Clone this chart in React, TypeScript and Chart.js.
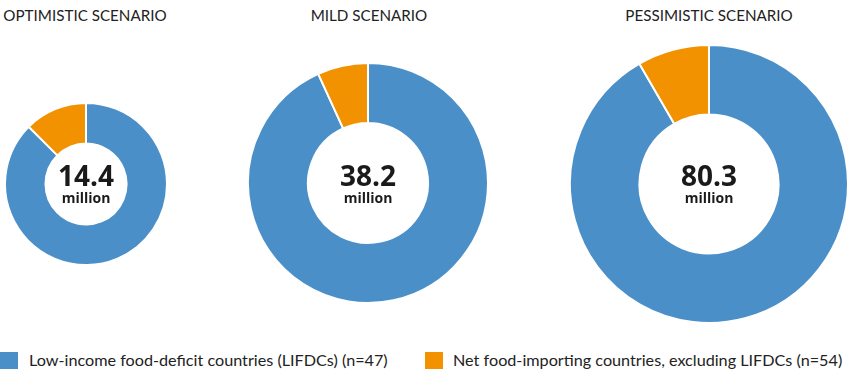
import React, { useEffect, useRef } from "react";
import { Chart, registerables } from "chart.js";

Chart.register(...registerables);

const scenarioTitles = ["OPTIMISTIC SCENARIO", "MILD SCENARIO", "PESSIMISTIC SCENARIO"];
const totalLabels = ["14.4", "38.2", "80.3"];
const unitLabel = "million";
const seriesNames = [
  "Low-income food-deficit countries (LIFDCs) (n=47)",
  "Net food-importing countries, excluding LIFDCs (n=54)",
];
const lifdcValues = [12.6, 35.6, 73.6];
const nficValues = [1.8, 2.6, 6.7];
const seriesColors = ["#4B8FC9", "#F39200"];

// layout (px)
const layouts = [
  { cx: 86, cy: 184, r: 81, titleX: 85 },
  { cx: 368, cy: 183, r: 120, titleX: 369 },
  { cx: 709, cy: 184, r: 139, titleX: 709 },
];

function Donut({ idx }: { idx: number }) {
  const ref = useRef<HTMLCanvasElement | null>(null);
  const L = layouts[idx];
  const size = 2 * L.r + 2;
  useEffect(() => {
    if (!ref.current) return;
    const chart = new Chart(ref.current, {
      type: "doughnut",
      data: {
        labels: seriesNames,
        datasets: [
          {
            data: [lifdcValues[idx], nficValues[idx]],
            backgroundColor: seriesColors,
            borderColor: "#ffffff",
            borderWidth: 2,
          },
        ],
      },
      options: {
        responsive: false,
        animation: false,
        cutout: "50%",
        layout: { padding: 0 },
        plugins: {
          legend: { display: false },
          tooltip: { enabled: false },
          title: { display: false },
        },
      },
    });
    return () => chart.destroy();
  }, [idx]);
  return (
    <>
      <canvas
        ref={ref}
        width={size}
        height={size}
        style={{
          position: "absolute",
          left: L.cx - size / 2,
          top: L.cy - size / 2,
          width: size,
          height: size,
        }}
      />
      <div
        style={{
          position: "absolute",
          left: L.titleX - 150,
          width: 300,
          top: 5,
          textAlign: "center",
          fontFamily: "Lato, 'Open Sans', sans-serif",
          fontSize: 15.2,
          lineHeight: "20px",
          color: "#222",
          whiteSpace: "nowrap",
        }}
      >
        {scenarioTitles[idx]}
      </div>
      <div
        style={{
          position: "absolute",
          left: L.cx - 60,
          width: 120,
          top: 161,
          textAlign: "center",
          fontFamily: "'Open Sans', sans-serif",
          fontWeight: 700,
          fontSize: 28,
          lineHeight: "28px",
          color: "#1a1a1a",
        }}
      >
        {totalLabels[idx]}
      </div>
      <div
        style={{
          position: "absolute",
          left: L.cx - 60,
          width: 120,
          top: 189,
          textAlign: "center",
          fontFamily: "'Open Sans', sans-serif",
          fontWeight: 700,
          fontSize: 14,
          lineHeight: "18px",
          color: "#1a1a1a",
        }}
      >
        {unitLabel}
      </div>
    </>
  );
}

export default function App() {
  const legendItems = [
    { x: 0, textX: 29 },
    { x: 425, textX: 453 },
  ];
  return (
    <div
      style={{
        position: "fixed",
        left: 0,
        top: 0,
        width: 850,
        height: 375,
        background: "#ffffff",
        overflow: "hidden",
      }}
    >
      {[0, 1, 2].map((i) => (
        <Donut key={i} idx={i} />
      ))}
      {legendItems.map((it, i) => (
        <React.Fragment key={i}>
          <div
            style={{
              position: "absolute",
              left: it.x,
              top: 352,
              width: 18,
              height: 17,
              background: seriesColors[i],
            }}
          />
          <div
            style={{
              position: "absolute",
              left: it.textX,
              top: 350,
              fontFamily: "Lato, 'Open Sans', sans-serif",
              fontSize: 16.2,
              lineHeight: "20px",
              color: "#222",
              whiteSpace: "nowrap",
            }}
          >
            {seriesNames[i]}
          </div>
        </React.Fragment>
      ))}
    </div>
  );
}
